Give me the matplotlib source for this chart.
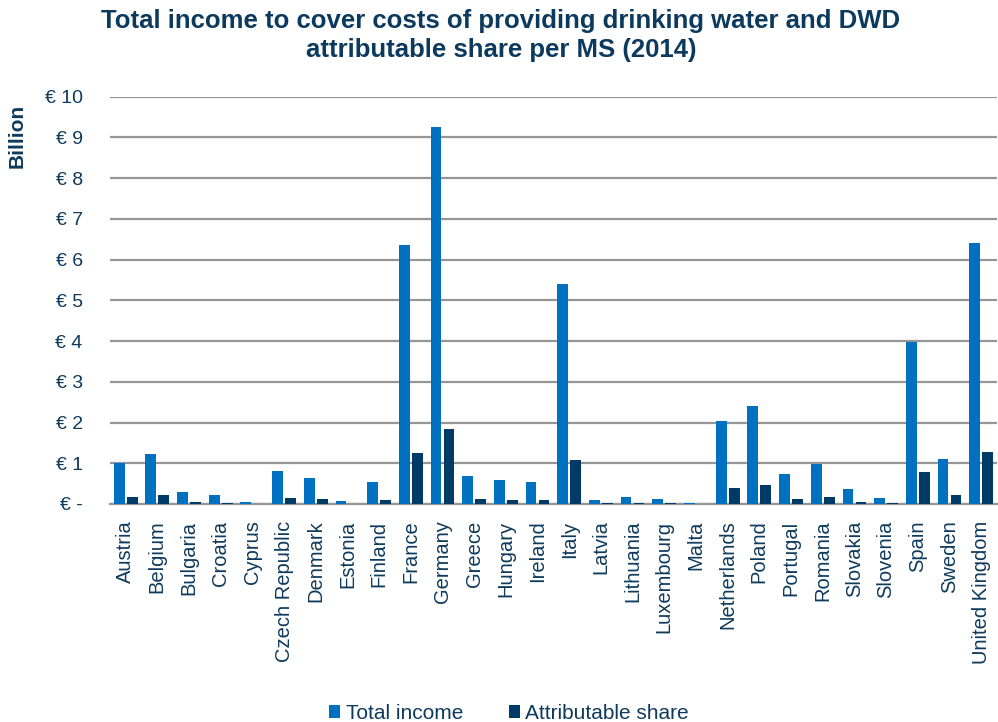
import numpy as np
import matplotlib.pyplot as plt

plt.rcParams["font.family"] = ["Liberation Sans", "DejaVu Sans"]

countries = [
    "Austria", "Belgium", "Bulgaria", "Croatia", "Cyprus", "Czech Republic",
    "Denmark", "Estonia", "Finland", "France", "Germany", "Greece", "Hungary",
    "Ireland", "Italy", "Latvia", "Lithuania", "Luxembourg", "Malta",
    "Netherlands", "Poland", "Portugal", "Romania", "Slovakia", "Slovenia",
    "Spain", "Sweden", "United Kingdom",
]
# EUR billion
total_income = [
    1.00, 1.22, 0.29, 0.21, 0.05, 0.80, 0.64, 0.07, 0.54, 6.36, 9.26, 0.69,
    0.60, 0.55, 5.41, 0.10, 0.18, 0.12, 0.02, 2.04, 2.41, 0.74, 0.98, 0.36,
    0.14, 3.98, 1.11, 6.41,
]
attributable = [
    0.18, 0.23, 0.05, 0.03, 0.01, 0.15, 0.12, 0.01, 0.10, 1.26, 1.85, 0.12,
    0.10, 0.09, 1.07, 0.02, 0.02, 0.02, 0.005, 0.40, 0.47, 0.13, 0.18, 0.06,
    0.02, 0.79, 0.21, 1.27,
]
yticks = list(range(0, 11))
ytick_labels = ["€ -"] + [f"€ {v}" for v in yticks[1:]]

BLUE = "#0070C0"
NAVY = "#003A66"
TXT = "#0E3A5C"
GRID = "#969696"

fig = plt.figure(figsize=(9.98, 7.22), dpi=100)
ax = fig.add_axes([0.110, 0.302, 0.889, 0.564])

x = np.arange(len(countries))
w = 0.34
ax.bar(x - 0.205, total_income, width=w, color=BLUE, label="Total income", zorder=3)
ax.bar(x + 0.205, attributable, width=w, color=NAVY, label="Attributable share", zorder=3)

ax.set_xlim(-0.5, len(countries) - 0.5)
ax.set_ylim(0, 10)
ax.set_yticks(yticks)
ax.set_yticklabels(ytick_labels, fontsize=14, color=TXT)
ax.set_xticks(x)
ax.set_xticklabels(countries, rotation=90, fontsize=14.5, color=TXT)
ax.tick_params(axis="both", length=0)
ax.tick_params(axis="y", pad=19.5)
ax.tick_params(axis="x", pad=12)

ax.grid(axis="y", color=GRID, linewidth=1.6, zorder=0)
for s in ["top", "right", "left"]:
    ax.spines[s].set_visible(False)
ax.spines["bottom"].set_color(GRID)
ax.spines["bottom"].set_linewidth(1.6)

fig.text(0.502, 0.988, "Total income to cover costs of providing drinking water and DWD\n"
         "attributable share per MS (2014)", ha="center", va="top",
         fontsize=18.5, fontweight="bold", color="#0B3A5E", linespacing=1.3)
fig.text(0.0175, 0.812, "Billion", rotation=90, ha="center", va="center",
         fontsize=15, fontweight="bold", color=TXT)

leg = fig.legend(loc="lower center", bbox_to_anchor=(0.51, -0.027), ncol=2,
                 frameon=False, fontsize=15, handlelength=0.55, handleheight=0.55,
                 handletextpad=0.25, columnspacing=2.2)
for t in leg.get_texts():
    t.set_color(TXT)

fig.savefig("out.png", dpi=100)
